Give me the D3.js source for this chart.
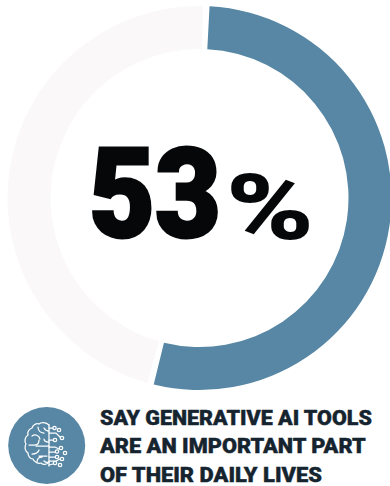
<!DOCTYPE html>
<html>
<head>
<meta charset="utf-8">
<script src="https://cdn.jsdelivr.net/npm/d3@7"></script>
<style>
html,body{margin:0;padding:0;background:#fff}
svg{display:block}
text{font-family:"Roboto","Liberation Sans",sans-serif}
</style>
</head>
<body>
<svg id="chart" width="390" height="486"></svg>
<script>
const shareLabels = ["important", "rest"];
const shareValues = [53, 47];
const shareColors = ["#5787a4", "#faf8f9"];
const captionLines = ["SAY GENERATIVE AI TOOLS", "ARE AN IMPORTANT PART", "OF THEIR DAILY LIVES"];
const captionWidths = [272, 266, 222];
// Circuit side of the brain glyph: each trace runs from the spine to a small terminal ring.
const circuitTraces = [
  [[49,428],[53,428]], [[49,433],[56,433],[60,437]], [[49,440],[53,440]],
  [[49,447],[55,447],[59,449]], [[49,452],[55,452]], [[49,457],[55,457]],
  [[49,461],[56,461],[60,459]], [[49,465],[53,464]]
];
const circuitNodes = [[54.5,428],[59,430],[62,438],[55,440],[61,448],[57,451.5],[65,453],[57,457],[62,459],[55,463],[60,465]];
// Outline and folds of the brain's left hemisphere.
const brainPaths = [
  "M49 425c-3-3-8-3-10-1c-3-1-6 1-7 4c-3 1-5 4-4 7c-3 2-4 6-2 9c-2 3-1 7 2 9c0 3 2 6 5 6c1 3 5 5 8 4c2 2 6 2 8-1",
  "M49 425V466",
  "M32 436c3-2 7-1 8 3M38 427c0 3 2 6 6 6M44 428c1 2 2 3 5 3M29 445h6c3 0 4-2 4-5",
  "M36 446h13M44 439c0 2 2 3 5 3M32 454c3 0 6-1 7-4M39 456h8M37 462c0-3 2-5 5-5M44 461c1 1 3 2 5 1"
];

const svg = d3.select("#chart");
const cx = 199.5, cy = 198, outer = 192, inner = 149;
const rotation = 3 * Math.PI / 180;
const gap = 2 * Math.PI / 180;

// Share ring, with a small gap trimmed off the pale remainder at both ends.
const slices = d3.pie().sort(null).value(d => d)
  .startAngle(rotation).endAngle(rotation + 2 * Math.PI)(shareValues);
const arc = d3.arc().innerRadius(inner).outerRadius(outer);
svg.append("g").attr("transform", `translate(${cx},${cy})`)
  .selectAll("path").data(slices).join("path")
  .attr("d", (d, i) => arc(i === 0 ? d : {...d, startAngle: d.startAngle + gap, endAngle: d.endAngle - gap}))
  .attr("fill", (d, i) => shareColors[i]);

// Places a text at x, y and squeezes it horizontally to the wanted advance width.
function fitted(sel, x, y, width) {
  const natural = sel.node().getComputedTextLength();
  return sel.attr("transform", `translate(${x},${y}) scale(${width / natural},1)`);
}

// Large figure, condensed to squared display proportions and thickened with a stroke.
fitted(svg.append("text")
  .attr("font-size", 125).attr("font-weight", 900).attr("fill", "#050709")
  .attr("stroke", "#050709").attr("stroke-width", 3).attr("stroke-linejoin", "miter")
  .text(shareValues[0]), 89, 237, 132);
fitted(svg.append("text")
  .attr("font-size", 90).attr("font-weight", 900).attr("fill", "#050709")
  .text("%"), 226, 239, 88);

svg.append("g").selectAll("text").data(captionLines).join("text")
  .attr("font-size", 20.5).attr("font-weight", 900).attr("fill", "#15242f")
  .attr("stroke", "#15242f").attr("stroke-width", 0.4)
  .text(d => d)
  .each(function (d, i) { fitted(d3.select(this), 100, 424.5 + i * 28.5, captionWidths[i]); });

// Round badge with the brain glyph.
svg.append("circle").attr("cx", 46.7).attr("cy", 445.5).attr("r", 38.5).attr("fill", shareColors[0]);
const glyph = svg.append("g").attr("fill", "none").attr("stroke", "#fff")
  .attr("stroke-width", 1.25).attr("stroke-linecap", "round");
glyph.selectAll("path.fold").data(brainPaths).join("path").attr("class", "fold").attr("d", d => d);
glyph.selectAll("path.trace").data(circuitTraces).join("path").attr("class", "trace")
  .attr("d", d3.line());
glyph.selectAll("circle").data(circuitNodes).join("circle")
  .attr("cx", d => d[0]).attr("cy", d => d[1]).attr("r", 1.7);
</script>
</body>
</html>
